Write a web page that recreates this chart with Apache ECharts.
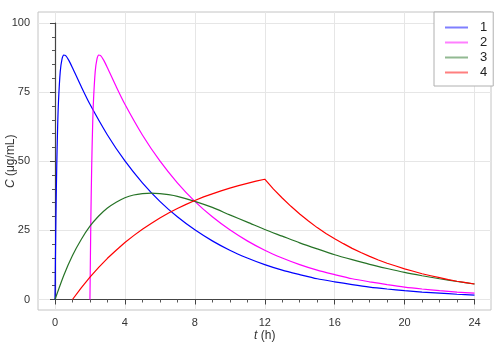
<!DOCTYPE html>
<html>
<head>
<meta charset="utf-8">
<script src="https://cdn.jsdelivr.net/npm/echarts@6/dist/echarts.min.js"></script>
<style>
  html, body { margin: 0; padding: 0; background: #ffffff; }
  #chart { width: 500px; height: 349px; }
</style>
</head>
<body>
<div id="chart"></div>
<script>
// Plasma concentration C (µg/mL) against time t (h) for four dosing regimens
const seriesNames = ['1', '2', '3', '4'];

// 1: oral dose, fast absorption
const time1 = [0, 0.05, 0.1, 0.15, 0.2, 0.3, 0.4, 0.5, 0.6, 0.8, 1, 1.5, 2,
  3, 4, 5, 6, 7, 8, 9, 10, 11, 12, 13, 14, 15, 16, 17, 18, 19, 20, 21, 22, 23, 24];
const conc1 = [0, 28.6, 48.4, 62.2, 71.7, 82.4, 86.9, 88.4, 88.3, 86.4, 83.8, 77.0, 70.6,
  59.5, 50.1, 42.2, 35.5, 29.9, 25.2, 21.2, 17.8, 15.0, 12.6, 10.6, 9.0, 7.5, 6.4, 5.4, 4.5, 3.8, 3.2, 2.7, 2.3, 1.9, 1.6];

// 2: same dose with a 2 h lag
const time2 = [2, 2.05, 2.1, 2.15, 2.2, 2.3, 2.4, 2.5, 2.6, 2.8, 3, 3.5, 4,
  5, 6, 7, 8, 9, 10, 11, 12, 13, 14, 15, 16, 17, 18, 19, 20, 21, 22, 23, 24];
const conc2 = [0, 28.6, 48.4, 62.2, 71.7, 82.4, 86.9, 88.4, 88.3, 86.4, 83.8, 77.0, 70.6,
  59.5, 50.1, 42.2, 35.5, 29.9, 25.2, 21.2, 17.8, 15.0, 12.6, 10.6, 9.0, 7.5, 6.4, 5.4, 4.5, 3.8, 3.2, 2.7, 2.3];

// 3: slow absorption
const time3 = [0, 0.5, 1, 1.5, 2, 2.5, 3, 3.5, 4, 4.5, 5, 5.5, 6, 6.5, 7,
  8, 9, 10, 11, 12, 13, 14, 15, 16, 17, 18, 19, 20, 21, 22, 23, 24];
const conc3 = [0, 8.7, 15.9, 21.7, 26.5, 30.2, 33.1, 35.2, 36.8, 37.8, 38.3, 38.5, 38.3, 37.9, 37.3,
  35.5, 33.3, 30.6, 28.0, 25.3, 22.9, 20.5, 18.3, 16.2, 14.4, 12.7, 11.2, 9.8, 8.6, 7.5, 6.5, 5.6];

// 4: constant-rate infusion from 1 h to 12 h
const time4 = [1, 1.5, 2, 2.5, 3, 3.5, 4, 4.5, 5, 5.5, 6, 6.5, 7, 7.5, 8, 8.5, 9, 9.5, 10, 10.5, 11, 11.5, 12,
  12.5, 13, 13.5, 14, 14.5, 15, 15.5, 16, 16.5, 17, 17.5, 18, 18.5, 19, 19.5, 20, 20.5, 21, 21.5, 22, 22.5, 23, 23.5, 24];
const conc4 = [0, 4.2, 8.1, 11.6, 14.9, 17.8, 20.6, 23.1, 25.4, 27.5, 29.5, 31.3, 32.9, 34.4, 35.8, 37.1, 38.2, 39.3, 40.3, 41.2, 42.0, 42.8, 43.5,
  39.9, 36.7, 33.7, 30.9, 28.4, 26.0, 23.9, 22.0, 20.2, 18.5, 17.0, 15.6, 14.3, 13.1, 12.1, 11.1, 10.2, 9.3, 8.6, 7.9, 7.2, 6.6, 6.1, 5.6];

const xTicks = [0, 4, 8, 12, 16, 20, 24];
const yTicks = [0, 25, 50, 75, 100];

const lineColors = ['#0000ff', '#ff00ff', '#267326', '#ff0000'];
const FONT = "'Liberation Sans', Arial, sans-serif";

// plotting area (data range) and the surrounding frame, in pixels
const W = 500, H = 349;
const plot = { left: 55, right: 25.5, top: 23, bottom: 49.5 };
const frame = { left: 38, right: 9, top: 12, bottom: 39 };
const xMin = 0, xMax = 24, yMin = 0, yMax = 100;
const pxX = (W - plot.left - plot.right) / (xMax - xMin);
const pxY = (H - plot.top - plot.bottom) / (yMax - yMin);
const frameX = [xMin - (plot.left - frame.left) / pxX, xMax + (plot.right - frame.right) / pxX];
const frameY = [yMin - (plot.bottom - frame.bottom) / pxY, yMax + (plot.top - frame.top) / pxY];

const pairs = (t, c) => t.map((v, i) => [v, c[i]]);
const curves = [pairs(time1, conc1), pairs(time2, conc2), pairs(time3, conc3), pairs(time4, conc4)];

const chart = echarts.init(document.getElementById('chart'), null, { renderer: 'canvas' });

chart.setOption({
  animation: false,
  backgroundColor: '#ffffff',
  textStyle: { fontFamily: FONT },
  grid: [
    { // frame with grid lines
      left: frame.left, right: frame.right, top: frame.top, bottom: frame.bottom,
      containLabel: false, outerBoundsMode: 'none',
      show: true, borderColor: '#c4c4c4', borderWidth: 1, backgroundColor: 'transparent'
    },
    { // data area
      left: plot.left, right: plot.right, top: plot.top, bottom: plot.bottom,
      containLabel: false, outerBoundsMode: 'none'
    }
  ],
  xAxis: [
    {
      gridIndex: 0, type: 'value', min: frameX[0], max: frameX[1],
      axisLine: { show: false },
      axisTick: { show: false, customValues: xTicks },
      axisLabel: { show: false, customValues: xTicks },
      splitLine: { show: true, lineStyle: { color: '#e6e6e6', width: 1 } }
    },
    {
      gridIndex: 1, type: 'value', min: xMin, max: xMax, interval: 4,
      position: 'bottom', offset: plot.bottom - frame.bottom,
      axisLine: { show: true, lineStyle: { color: '#444444', width: 1.2 } },
      axisTick: { show: true, length: 5, lineStyle: { color: '#444444', width: 1 } },
      minorTick: { show: true, splitNumber: 4, length: 3, lineStyle: { color: '#555555', width: 1 } },
      axisLabel: { color: '#333333', fontSize: 11, margin: 7, fontFamily: FONT },
      splitLine: { show: false },
      name: '{it|t} (h)',
      nameLocation: 'middle',
      nameGap: 20,
      nameMoveOverlap: false,
      nameTextStyle: {
        color: '#333333', fontSize: 12, fontFamily: FONT,
        rich: { it: { fontStyle: 'italic', fontSize: 12, color: '#333333', fontFamily: FONT } }
      }
    }
  ],
  yAxis: [
    {
      gridIndex: 0, type: 'value', min: frameY[0], max: frameY[1],
      axisLine: { show: false },
      axisTick: { show: false, customValues: yTicks },
      axisLabel: { show: false, customValues: yTicks },
      splitLine: { show: true, lineStyle: { color: '#e6e6e6', width: 1 } }
    },
    {
      gridIndex: 1, type: 'value', min: yMin, max: yMax, interval: 25,
      position: 'left', offset: plot.left - frame.left,
      axisLine: { show: true, lineStyle: { color: '#444444', width: 1.2 } },
      axisTick: { show: true, length: 5, lineStyle: { color: '#444444', width: 1 } },
      minorTick: { show: true, splitNumber: 5, length: 3, lineStyle: { color: '#555555', width: 1 } },
      axisLabel: { color: '#333333', fontSize: 11, margin: 8, fontFamily: FONT },
      splitLine: { show: false },
      name: '{it|C} (μg/mL)',
      nameLocation: 'middle',
      nameGap: 21,
      nameMoveOverlap: false,
      nameTextStyle: {
        color: '#333333', fontSize: 12, fontFamily: FONT,
        rich: { it: { fontStyle: 'italic', fontSize: 12, color: '#333333', fontFamily: FONT } }
      }
    }
  ],
  legend: {
    data: seriesNames,
    orient: 'vertical',
    left: 434,
    top: 12,
    padding: [8, 6, 6, 11],
    itemGap: 0,
    itemWidth: 23,
    itemHeight: 2,
    icon: 'rect',
    itemStyle: { opacity: 0.5 },
    backgroundColor: '#ffffff',
    borderColor: '#b0b0b0',
    borderWidth: 1,
    borderRadius: 0,
    textStyle: { color: '#222222', fontSize: 13, fontFamily: FONT, padding: [0, 0, 0, 7], lineHeight: 15 }
  },
  series: curves.map((data, i) => ({
    name: seriesNames[i],
    type: 'line',
    xAxisIndex: 1,
    yAxisIndex: 1,
    data: data,
    symbol: 'none',
    showSymbol: false,
    smooth: i < 3 ? 0.25 : false,
    clip: false,
    color: lineColors[i],
    lineStyle: { color: lineColors[i], width: 1.2 }
  }))
});
</script>
</body>
</html>
